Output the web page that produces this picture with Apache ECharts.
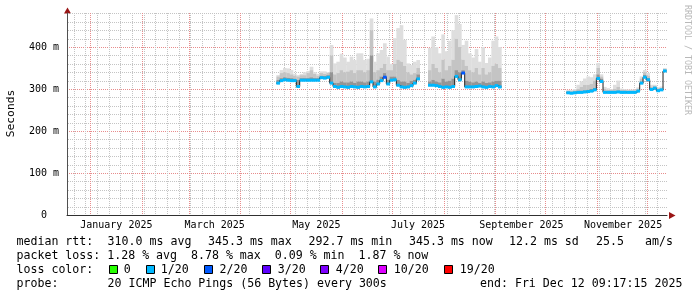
<!DOCTYPE html>
<html><head><meta charset="utf-8">
<script src="https://cdn.jsdelivr.net/npm/echarts@6/dist/echarts.min.js"></script>
<style>html,body{margin:0;padding:0;background:#fff}#c{width:697px;height:297px}</style>
</head><body><div id="c"></div>
<script>
// ---- time frame ----
const startTime = Date.UTC(2024, 11, 17, 9, 17, 15);
const endTime = Date.UTC(2025, 11, 12, 9, 17, 15);
const binDays = 2;

// ---- month tick labels ----
const monthLabels = ['January 2025', 'March 2025', 'May 2025', 'July 2025', 'September 2025', 'November 2025'];
const monthLabelDates = [[2025, 0, 16], [2025, 2, 16], [2025, 4, 16], [2025, 6, 16], [2025, 8, 16], [2025, 10, 16]];
const yTickValues = [0, 100, 200, 300, 400];

// ---- segment 1 (from 22 Apr 2025, 2-day bins), values in ms ----
const seg1Start = [2025, 3, 22];
const seg1Median = [314,320,322,321,320,320,306,321,321,321,321,321,321,327,326,328,314,306,304,306,305,304,306,305,304,306,305,306,317,305,312,320,328,312,321,322,309,305,304,305,308,314,324];
const seg1Dark   = [322,326,328,327,326,325,322,326,326,326,328,326,326,332,331,333,340,315,315,318,316,316,318,315,318,318,316,318,380,318,322,330,338,322,330,330,322,318,318,315,320,322,335];
const seg1Mid    = [330,338,340,338,335,332,330,333,333,338,345,336,332,338,336,338,380,335,338,345,340,342,345,338,345,345,340,345,440,340,345,350,360,345,345,360,370,365,355,340,335,338,350];
const seg1Max    = [333,345,350,349,345,336,333,336,340,343,353,340,336,342,342,340,405,361,365,384,375,365,377,369,385,385,369,372,468,365,385,393,409,377,360,421,445,452,417,361,357,365,369];
const seg1Loss   = [1,1,1,1,1,1,1,1,1,1,1,1,1,1,1,1,1,1,1,1,1,1,1,1,1,1,1,1,1,1,1,1,2,1,1,1,1,1,1,1,1,1,1];

// ---- segment 2 (from 22 Jul 2025) ----
const seg2Start = [2025, 6, 22];
const seg2Median = [309,309,308,306,304,305,304,306,330,322,338,305,305,305,306,307,305,304,306,305,308,305];
const seg2Dark   = [318,322,318,316,325,318,320,325,345,340,345,320,318,316,318,315,318,315,316,318,320,320];
const seg2Mid    = [345,360,350,340,370,345,355,370,420,400,370,355,345,340,350,335,350,335,340,355,360,350];
const seg2Max    = [398,425,400,385,430,390,415,440,476,455,405,415,385,375,395,365,400,362,375,415,425,400];
const seg2Loss   = [1,1,1,1,1,1,1,1,1,1,2,1,1,1,1,1,1,1,1,1,1,1];

// ---- segment 3 (from 13 Oct 2025) ----
const seg3Start = [2025, 9, 13];
const seg3Median = [291,290,291,292,292,293,294,295,298,325,318,292,292,292,292,293,292,292,292,292,292,295,314,328,322,299,302,296,298,343];
const seg3Dark   = [294,293,294,296,296,297,298,300,303,335,325,295,295,295,295,296,295,295,295,295,295,298,318,334,326,303,305,299,300,346];
const seg3Mid    = [296,296,297,300,305,310,310,312,320,350,330,300,298,298,300,305,298,298,297,297,297,301,325,340,332,306,308,302,303,348];
const seg3Max    = [298,298,300,310,318,325,330,328,335,362,335,305,302,300,310,320,301,300,299,299,299,304,330,345,338,310,310,304,306,350];
const seg3Loss   = [1,1,1,1,1,1,1,1,1,1,1,1,1,1,1,1,1,1,1,1,1,1,1,1,1,1,1,1,1,1];

// ---- loss colour legend ----
const lossLabels = ['0', '1/20', '2/20', '3/20', '4/20', '10/20', '19/20'];
const lossColors = ['#26ff00', '#00b8ff', '#0059ff', '#5e00ff', '#7e00ff', '#dd00ff', '#ff0000'];

// ---- legend texts ----
const legendRow1 = ['median rtt:', '310.0 ms avg', '345.3 ms max', '292.7 ms min', '345.3 ms now', '12.2 ms sd', '25.5', 'am/s'];
const legendRow2 = ['packet loss: 1.28 % avg  8.78 % max  0.09 % min  1.87 % now'];
const legendRow3Title = 'loss color:';
const legendRow4 = ['probe:', '20 ICMP Echo Pings (56 Bytes) every 300s', 'end: Fri Dec 12 09:17:15 2025'];
const yTitle = 'Seconds';
const watermark = 'RRDTOOL / TOBI OETIKER';

// ================= build =================
const DAY = 86400000;
const binMs = binDays * DAY;
const segments = [
  {start: seg1Start, median: seg1Median, dark: seg1Dark, mid: seg1Mid, max: seg1Max, loss: seg1Loss},
  {start: seg2Start, median: seg2Median, dark: seg2Dark, mid: seg2Mid, max: seg2Max, loss: seg2Loss},
  {start: seg3Start, median: seg3Median, dark: seg3Dark, mid: seg3Mid, max: seg3Max, loss: seg3Loss}
];
const binData = [];
const medianLine = [];
segments.forEach(s => {
  const t0 = Date.UTC(s.start[0], s.start[1], s.start[2]);
  s.median.forEach((m, i) => {
    const ts = t0 + i * binMs;
    const te = Math.min(ts + binMs, endTime);
    binData.push([ts, te, m, s.dark[i], s.mid[i], s.max[i], s.loss[i]]);
    medianLine.push([ts, m]);
  });
  const tl = Math.min(t0 + s.median.length * binMs, endTime);
  medianLine.push([tl, s.median[s.median.length - 1]]);
  medianLine.push([tl + 3600000, null]);
});

const monthLabelTimes = monthLabelDates.map(d => Date.UTC(d[0], d[1], d[2]));

// grid line positions
const vMinor = [], vMajor = [], hMinor = [];
for (let t = Date.UTC(2024, 11, 22); t < endTime; t += 7 * DAY) vMinor.push([t, 0]);
for (let m = 0; m < 12; m++) vMajor.push([Date.UTC(2025, m, 1), 0]);
for (let v = 20; v < 481; v += 20) if (v % 100 !== 0) hMinor.push([startTime, v]);

const MONO = '"DejaVu Sans Mono", monospace';
const GRID_GRAY = '#c4c4c4', GRID_RED = '#e88c8c';

function vGridRenderer(color) {
  return function (params, api) {
    const cs = params.coordSys;
    const x = Math.round(api.coord([api.value(0), 0])[0] - 1) + 0.5;
    return {type: 'line', shape: {x1: x, y1: cs.y, x2: x, y2: cs.y + cs.height},
      style: {stroke: color, fill: null, lineWidth: 1, lineDash: [1, 1]}};
  };
}
function hGridRenderer(color) {
  return function (params, api) {
    const cs = params.coordSys;
    const y = Math.round(api.coord([api.value(0), api.value(1)])[1]) + 0.5;
    return {type: 'line', shape: {x1: cs.x + 1, y1: y, x2: cs.x + cs.width, y2: y},
      style: {stroke: color, fill: null, lineWidth: 1, lineDash: [1, 1]}};
  };
}
function renderSmoke(params, api) {
  const t0 = api.value(0), t1 = api.value(1);
  const med = api.value(2), dk = api.value(3), md = api.value(4), mx = api.value(5);
  const x0 = api.coord([t0, 0])[0], x1 = api.coord([t1, 0])[0];
  const y = v => api.coord([t0, v])[1];
  const w = x1 - x0 + 0.3;
  const r = (a, b, c) => ({type: 'rect', shape: {x: x0, y: y(b), width: w, height: y(a) - y(b)}, style: {fill: c}});
  return {type: 'group', children: [
    r(md, mx, '#dedede'),
    r(dk, md, '#c4c4c4'),
    r(med - 2, dk, '#959595')
  ]};
}
function renderBand(params, api) {
  const t0 = api.value(0), t1 = api.value(1), med = api.value(2), loss = api.value(6);
  const x0 = api.coord([t0, 0])[0], x1 = api.coord([t1, 0])[0];
  const yt = api.coord([t0, med + 3.6])[1], yb = api.coord([t0, med - 3.6])[1];
  return {type: 'rect', shape: {x: x0, y: yt, width: x1 - x0 + 0.3, height: yb - yt}, style: {fill: lossColors[loss]}};
}

// ---- legend graphics ----
const LEG_FONT = 11.6;
const graphics = [];
function txt(text, x, y, extra) {
  graphics.push({type: 'text', x: x, y: y, silent: true,
    style: Object.assign({text: text, fontFamily: MONO, fontSize: LEG_FONT, fill: '#000', align: 'left', verticalAlign: 'middle'}, extra || {})});
}
const row1X = [16.5, 107.6, 208, 308.5, 409, 509, 596, 645];
legendRow1.forEach((s, i) => txt(s, row1X[i], 241.5));
txt(legendRow2[0], 16.5, 255.5);
txt(legendRow3Title, 16.5, 269.5);
const boxX = [109.5, 146.5, 204.5, 262.5, 320.5, 378.5, 444.5];
const labX = [123.7, 160.7, 219.6, 277.7, 335.7, 393.8, 459.8];
lossLabels.forEach((l, i) => {
  graphics.push({type: 'rect', silent: true, shape: {x: boxX[i], y: 265.5, width: 8, height: 8},
    style: {fill: lossColors[i], stroke: '#000', lineWidth: 1}});
  txt(l, labX[i], 269.5);
});
const row4X = [16.5, 107.6, 480];
legendRow4.forEach((s, i) => txt(s, row4X[i], 283.5));
graphics.push({type: 'text', x: 11, y: 113.5, rotation: Math.PI / 2, silent: true,
  style: {text: yTitle, fontFamily: MONO, fontSize: 11.3, fill: '#000', align: 'center', verticalAlign: 'middle'}});
graphics.push({type: 'text', x: 687.5, y: 5, rotation: -Math.PI / 2, silent: true,
  style: {text: watermark, fontFamily: MONO, fontSize: 8.3, fill: '#b8b8b8', align: 'left', verticalAlign: 'middle'}});
graphics.push({type: 'polygon', silent: true, shape: {points: [[67.5, 7.5], [64, 13.5], [71, 13.5]]}, style: {fill: '#9a1515'}});
graphics.push({type: 'polygon', silent: true, shape: {points: [[675.5, 215.5], [669, 212], [669, 219]]}, style: {fill: '#9a1515'}});

const chart = echarts.init(document.getElementById('c'), null, {renderer: 'canvas', width: 697, height: 297});
chart.setOption({
  animation: false,
  backgroundColor: '#ffffff',
  grid: {left: 67, right: 30, top: 13, bottom: 82, containLabel: false},
  xAxis: {
    type: 'value', min: startTime, max: endTime,
    axisLine: {show: true, lineStyle: {color: '#303030', width: 1}},
    axisTick: {show: false}, splitLine: {show: false},
    axisLabel: {
      customValues: monthLabelTimes, hideOverlap: false,
      fontFamily: MONO, fontSize: 10, color: '#000', margin: 5,
      formatter: v => { const i = monthLabelTimes.findIndex(t => Math.abs(t - v) < DAY); return i >= 0 ? monthLabels[i] : ''; }
    }
  },
  yAxis: {
    type: 'value', min: 0, max: 481, interval: 100,
    axisLine: {show: true, lineStyle: {color: '#505050', width: 1}},
    axisTick: {show: false},
    splitLine: {show: true, showMinLine: false, showMaxLine: false, lineStyle: {color: GRID_RED, width: 1, type: [1, 1]}},
    axisLabel: {showMaxLabel: false, fontFamily: MONO, fontSize: 10, color: '#000', margin: 8,
      formatter: v => yTickValues.includes(v) ? (v === 0 ? '0  ' : v + ' m') : ''}
  },
  series: [
    {name: 'hMinor', type: 'custom', renderItem: hGridRenderer(GRID_GRAY), data: hMinor, z: 1, silent: true, encode: {x: 0, y: 1}},
    {name: 'vMinor', type: 'custom', renderItem: vGridRenderer(GRID_GRAY), data: vMinor, z: 1, silent: true, encode: {x: 0, y: 1}},
    {name: 'vMajor', type: 'custom', renderItem: vGridRenderer(GRID_RED), data: vMajor, z: 1, silent: true, encode: {x: 0, y: 1}},
    {name: 'smoke', type: 'custom', renderItem: renderSmoke, data: binData, z: 2, silent: true,
      encode: {x: 0, y: 5}, clip: true},
    {name: 'median', type: 'line', step: 'end', data: medianLine, z: 3, showSymbol: false, silent: true,
      connectNulls: false, lineStyle: {color: '#202020', width: 1}},
    {name: 'loss', type: 'custom', renderItem: renderBand, data: binData, z: 4, silent: true,
      encode: {x: 0, y: 2}, clip: true}
  ],
  graphic: graphics
});
</script></body></html>
